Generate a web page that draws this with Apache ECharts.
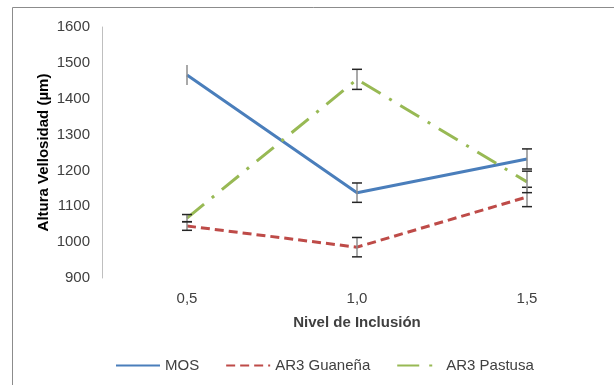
<!DOCTYPE html>
<html>
<head>
<meta charset="utf-8">
<script src="https://cdn.jsdelivr.net/npm/echarts@6/dist/echarts.min.js"></script>
<style>
  html, body { margin: 0; padding: 0; background: #fff; }
  #chart { width: 614px; height: 385px; }
</style>
</head>
<body>
<div id="chart"></div>
<script>
// Inclusion levels on the x axis
const niveles = ['0,5', '1,0', '1,5'];

// Villus height (µm) per treatment
const mos = [1466, 1138, 1232];
const guanena = [1045, 986, 1126];
const pastusa = [1067, 1454, 1168];

// Error bar half-widths (µm)
const mosErr = [28, 27, 28];
const guanenaErr = [12, 27, 27];
const pastusaErr = [10, 28, 30];

const yTicks = { min: 900, max: 1600, interval: 100 };

const font = 'Liberation Sans, Arial, sans-serif';

function errorSeries(values, errs, stemColor, capColor, showCaps) {
  return {
    type: 'custom',
    silent: true,
    z: 10,
    data: values.map((v, i) => [i, v - errs[i], v + errs[i]]),
    renderItem: function (params, api) {
      const x = api.value(0);
      const lo = api.coord([x, api.value(1)]);
      const hi = api.coord([x, api.value(2)]);
      const half = 5;
      const children = [{
        type: 'line',
        shape: { x1: lo[0], y1: lo[1], x2: hi[0], y2: hi[1] },
        style: { stroke: stemColor, lineWidth: 1.5 }
      }];
      if (showCaps[params.dataIndex]) {
        children.push({
          type: 'line',
          shape: { x1: hi[0] - half, y1: hi[1], x2: hi[0] + half, y2: hi[1] },
          style: { stroke: capColor, lineWidth: 1.5 }
        }, {
          type: 'line',
          shape: { x1: lo[0] - half, y1: lo[1], x2: lo[0] + half, y2: lo[1] },
          style: { stroke: capColor, lineWidth: 1.5 }
        });
      }
      return { type: 'group', children: children };
    }
  };
}

const chart = echarts.init(document.getElementById('chart'), null, { renderer: 'canvas' });

chart.setOption({
  animation: false,
  backgroundColor: '#fff',
  graphic: [{
    type: 'polyline',
    shape: { points: [[12.5, 400], [12.5, 7.5], [640, 7.5]] },
    style: { stroke: '#8c8c8c', lineWidth: 1, fill: null },
    silent: true
  }],
  grid: { left: 102, right: 2, top: 27, bottom: 107, containLabel: false },
  legend: {
    top: 353,
    left: 110,
    itemWidth: 44,
    itemHeight: 14,
    itemGap: 26,
    itemStyle: { opacity: 0 },
    textStyle: { fontFamily: font, fontSize: 15, color: '#404040' },
    data: ['MOS', 'AR3 Guaneña', 'AR3 Pastusa']
  },
  xAxis: {
    type: 'category',
    data: niveles,
    boundaryGap: true,
    name: 'Nivel de Inclusión',
    nameLocation: 'middle',
    nameGap: 37,
    nameMoveOverlap: false,
    nameTextStyle: { fontFamily: font, fontSize: 15, fontWeight: 'bold', color: '#404040' },
    axisLine: { show: false },
    axisTick: { show: false },
    axisLabel: { fontFamily: font, fontSize: 15, color: '#404040', margin: 13 }
  },
  yAxis: {
    type: 'value',
    min: yTicks.min,
    max: yTicks.max,
    interval: yTicks.interval,
    name: 'Altura Vellosidad (µm)',
    nameLocation: 'middle',
    nameGap: 51,
    nameMoveOverlap: false,
    nameTextStyle: { fontFamily: font, fontSize: 15, fontWeight: 'bold', color: '#000' },
    axisLine: { show: true, lineStyle: { color: '#bfbfbf', width: 1 } },
    axisTick: { show: false },
    splitLine: { show: false },
    axisLabel: {
      fontFamily: font, fontSize: 15, color: '#404040', margin: 12,
      formatter: v => String(v)
    }
  },
  series: [
    {
      name: 'MOS',
      type: 'line',
      data: mos,
      symbol: 'none',
      color: '#4a7ebb',
      lineStyle: { color: '#4a7ebb', width: 3 }
    },
    {
      name: 'AR3 Guaneña',
      type: 'line',
      data: guanena,
      symbol: 'none',
      color: '#be4b48',
      lineStyle: { color: '#be4b48', width: 3, type: [9, 5], cap: 'butt' }
    },
    {
      name: 'AR3 Pastusa',
      type: 'line',
      data: pastusa,
      symbol: 'none',
      color: '#98b954',
      lineStyle: { color: '#98b954', width: 3, type: [22, 10, 3, 10], cap: 'butt' }
    },
    errorSeries(mos, mosErr, '#8c8c8c', '#262626', [false, true, true]),
    errorSeries(guanena, guanenaErr, '#8c8c8c', '#262626', [true, true, true]),
    errorSeries(pastusa, pastusaErr, '#8c8c8c', '#262626', [true, true, true])
  ]
});
</script>
</body>
</html>
